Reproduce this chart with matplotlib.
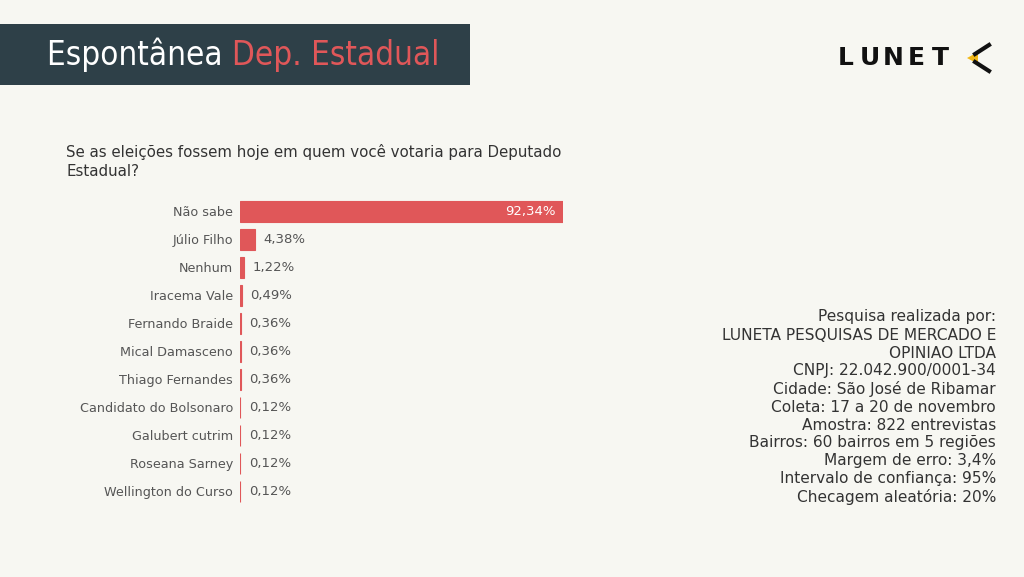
import matplotlib
matplotlib.use("Agg")
import matplotlib.pyplot as plt
import matplotlib.patches as mpatches

plt.rcParams["font.family"] = ["DejaVu Sans"]

# --- data ---
candidates = ["Não sabe", "Júlio Filho", "Nenhum", "Iracema Vale", "Fernando Braide",
              "Mical Damasceno", "Thiago Fernandes", "Candidato do Bolsonaro",
              "Galubert cutrim", "Roseana Sarney", "Wellington do Curso"]
values = [92.34, 4.38, 1.22, 0.49, 0.36, 0.36, 0.36, 0.12, 0.12, 0.12, 0.12]

title_white = "Espontânea"
title_red = "Dep. Estadual"
question = "Se as eleições fossem hoje em quem você votaria para Deputado\nEstadual?"
info_lines = [
    "Pesquisa realizada por:",
    "LUNETA PESQUISAS DE MERCADO E",
    "OPINIAO LTDA",
    "CNPJ: 22.042.900/0001-34",
    "Cidade: São José de Ribamar",
    "Coleta: 17 a 20 de novembro",
    "Amostra: 822 entrevistas",
    "Bairros: 60 bairros em 5 regiões",
    "Margem de erro: 3,4%",
    "Intervalo de confiança: 95%",
    "Checagem aleatória: 20%",
]
logo_letters = ["L", "U", "N", "E", "T"]

BG = "#f7f7f2"
RED = "#e05759"
DARK = "#2e4048"
GRAY = "#555555"

W, H = 1024, 577
fig = plt.figure(figsize=(W / 100, H / 100), dpi=100, facecolor=BG)

def px(x, y):
    # pixel coords (top-left origin) -> figure fraction
    return x / W, 1 - y / H

# --- header box ---
fig.patches.append(mpatches.Rectangle(px(0, 85), 470 / W, 61 / H, transform=fig.transFigure,
                                      facecolor=DARK, edgecolor="none"))
t = fig.text(*px(47, 55), title_white + " ", color="white", fontsize=23.8,
             stretch="condensed", va="center", ha="left")
fig.canvas.draw()
bb = t.get_window_extent()
fig.text(bb.x1 / W, 1 - 55 / H, title_red, color=RED, fontsize=23.8,
         stretch="condensed", va="center", ha="left")

# --- logo ---
for k, ch in enumerate(logo_letters):
    fig.text(*px(846 + k * 23.5, 58), ch, color="#111111", fontsize=18, fontweight="bold",
             va="center", ha="center")
fig.lines.append(plt.Line2D([989 / W, 975 / W], [1 - 45 / H, 1 - 54 / H],
                            transform=fig.transFigure, color="#111111", linewidth=3))
fig.lines.append(plt.Line2D([975 / W, 989 / W], [1 - 62 / H, 1 - 71 / H],
                            transform=fig.transFigure, color="#111111", linewidth=3))
fig.patches.append(mpatches.Polygon([px(967, 58), px(978, 52), px(978, 64)], closed=True,
                                    transform=fig.transFigure, facecolor="#f2b817", edgecolor="none"))

# --- question ---
fig.text(*px(66, 144), question, color="#333333", fontsize=10.8, va="top", ha="left",
         linespacing=1.32)

# --- bars ---
ax = fig.add_axes([240 / W, 1 - 505 / H, (563 - 240) / W, (505 - 197) / H])
ax.set_facecolor(BG)
y = list(range(len(candidates)))
ax.barh(y, values, height=0.75, color=RED, edgecolor=RED, linewidth=0.8)
ax.set_xlim(0, max(values))
ax.set_ylim(len(candidates) - 0.5, -0.5)
ax.set_yticks(y)
ax.set_yticklabels(candidates, color=GRAY, fontsize=9.2)
ax.tick_params(axis="y", length=0, pad=5)
ax.set_xticks([])
for s in ax.spines.values():
    s.set_visible(False)

for i, v in enumerate(values):
    lbl = f"{v:.2f}".replace(".", ",") + "%"
    if v > 50:
        ax.annotate(lbl, (v, i), xytext=(-5, 0), textcoords="offset points",
                    ha="right", va="center", color="white", fontsize=9.5)
    else:
        ax.annotate(lbl, (v, i), xytext=(6, 0), textcoords="offset points",
                    ha="left", va="center", color=GRAY, fontsize=9.5)

# --- info block ---
for k, line in enumerate(info_lines):
    fig.text(*px(996, 317 + k * 18), line, color="#333333", fontsize=11.1,
             ha="right", va="center")

fig.savefig("out.png", dpi=100, facecolor=BG)
